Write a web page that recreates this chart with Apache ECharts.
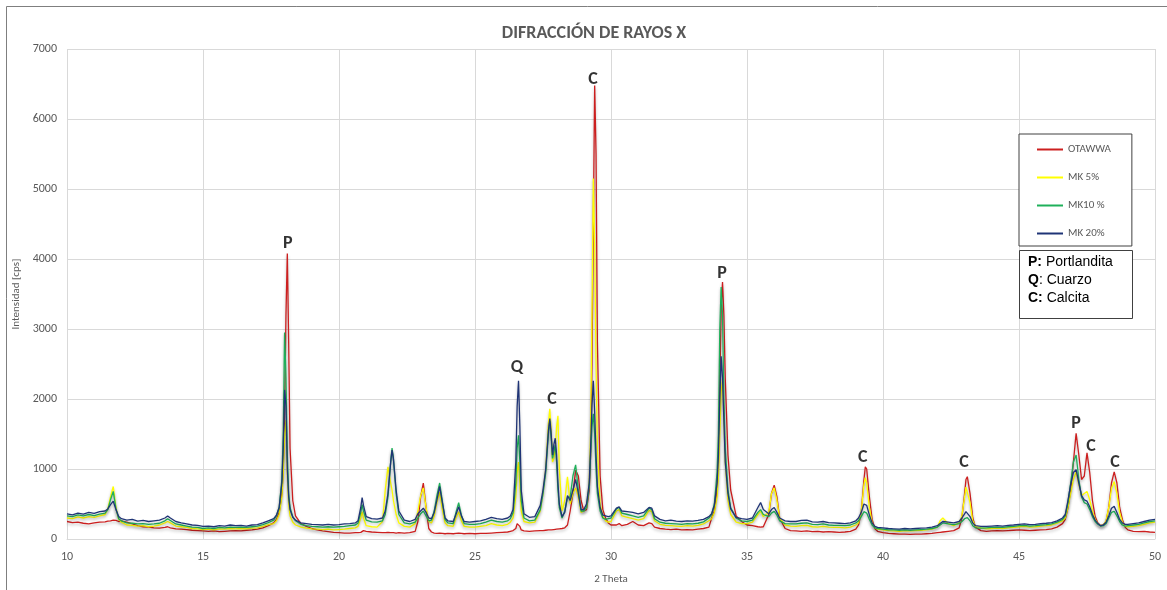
<!DOCTYPE html>
<html>
<head>
<meta charset="utf-8">
<title>Difracción de rayos X</title>
<script src="https://cdn.jsdelivr.net/npm/echarts@6/dist/echarts.min.js"></script>
<style>
  html, body { margin: 0; padding: 0; background: #fff; }
  #xrdChart { width: 1167px; height: 590px; }
</style>
</head>
<body>
<div id="xrdChart"></div>
<script>
// 2 theta positions (shared by the four patterns)
const theta = [
  10.0, 10.2, 10.4, 10.6, 10.8, 11.0, 11.2, 11.4,
  11.5, 11.6, 11.7, 11.8, 11.9, 12.0,
  12.2, 12.4, 12.6, 12.8, 13.0, 13.2, 13.4,
  13.6, 13.7, 13.8, 14.0,
  14.2, 14.4, 14.6, 14.8, 15.0, 15.2, 15.4, 15.6, 15.8, 16.0, 16.2, 16.4, 16.6, 16.8, 17.0, 17.2, 17.4,
  17.6, 17.7, 17.8, 17.9, 17.95, 18.0, 18.05, 18.1, 18.15, 18.2, 18.3, 18.4, 18.6,
  18.8, 19.0, 19.2, 19.4, 19.6, 19.8, 20.0, 20.2, 20.4, 20.6,
  20.7, 20.8, 20.85, 20.9, 21.0, 21.2, 21.4, 21.6, 21.7, 21.8, 21.9, 21.95, 22.0, 22.1, 22.2, 22.4, 22.6, 22.8,
  22.9, 23.0, 23.1, 23.2, 23.3, 23.4, 23.5, 23.6, 23.7, 23.8, 23.9, 24.0, 24.2, 24.3, 24.4, 24.5, 24.6, 24.8,
  25.0, 25.2, 25.4, 25.6, 25.8, 26.0, 26.2, 26.3,
  26.4, 26.5, 26.55, 26.6, 26.65, 26.7, 26.8, 27.0, 27.2, 27.4, 27.5, 27.6, 27.7, 27.75, 27.8,
  27.85, 27.9, 27.95, 28.0, 28.05, 28.1, 28.2, 28.3, 28.4, 28.5, 28.6, 28.7, 28.8, 28.9, 29.0,
  29.1, 29.2, 29.25, 29.3, 29.35, 29.4, 29.45, 29.5, 29.6, 29.7, 29.8,
  29.9, 30.0, 30.2, 30.3, 30.4, 30.6, 30.8, 31.0, 31.2, 31.4, 31.5, 31.6, 31.8, 32.0, 32.2, 32.4, 32.6, 32.8, 33.0, 33.2, 33.4, 33.6,
  33.7, 33.8, 33.9, 33.95, 34.0, 34.05, 34.1, 34.15, 34.2, 34.3, 34.4, 34.6, 34.8,
  35.0, 35.2, 35.4, 35.5, 35.6, 35.8, 35.9, 36.0, 36.1, 36.2, 36.4, 36.6,
  36.8, 37.0, 37.2, 37.4, 37.6, 37.8, 38.0, 38.2, 38.4, 38.6, 38.8, 39.0,
  39.1, 39.2, 39.3, 39.35, 39.4, 39.5, 39.6, 39.7, 39.8,
  40.0, 40.2, 40.4, 40.6, 40.8, 41.0, 41.2, 41.4, 41.6, 41.8, 42.0, 42.1, 42.2, 42.4, 42.6, 42.8,
  42.9, 43.0, 43.05, 43.1, 43.2, 43.3, 43.4, 43.6,
  43.8, 44.0, 44.2, 44.4, 44.6, 44.8, 45.0, 45.2, 45.4, 45.6, 45.8, 46.0, 46.2, 46.4, 46.6,
  46.7, 46.8, 46.9, 47.0, 47.1, 47.2, 47.3, 47.4, 47.5, 47.6, 47.7, 47.8, 47.9, 48.0, 48.1, 48.2, 48.3, 48.4, 48.5, 48.6, 48.7, 48.8, 48.9,
  49.0, 49.2, 49.4, 49.6, 49.8, 50.0
];

// intensities [cps]
const otawwa = [
  250, 235, 240, 225, 215, 230, 240, 245,
  255, 260, 270, 265, 250, 260,
  240, 215, 190, 175, 170, 160, 155,
  165, 175, 160, 145,
  140, 135, 125, 120, 115, 110, 115, 105, 110, 115, 120, 115, 125, 130, 140, 160, 190,
  230, 280, 380, 650, 1000, 1800, 3200, 4080, 2800, 1300, 550, 330, 220,
  180, 150, 130, 115, 105, 95, 90, 85, 85, 90,
  90, 95, 110, 120, 110, 100, 95, 90, 90, 95, 90, 95, 90, 85, 90, 85, 90, 110,
  250, 600, 800, 450, 150, 100, 85, 80, 85, 80, 75, 80, 75, 80, 85, 80, 75, 80,
  75, 80, 80, 85, 90, 95, 100, 110,
  120, 150, 220, 240, 180, 130, 115, 110, 115, 120, 120, 125, 130, 125, 130,
  130, 135, 135, 140, 140, 145, 150, 160, 200, 400, 650, 980, 900, 550, 400,
  420, 700, 1200, 2500, 4500, 6480, 5500, 2800, 900, 420, 300,
  230, 200, 200, 220, 190, 210, 250, 200, 190, 230, 220, 170, 150, 140, 135, 140, 130, 135, 130, 140, 150, 170,
  300, 400, 700, 1100, 2200, 3300, 3670, 3200, 2300, 1200, 700, 330, 250,
  200, 190, 175, 170, 175, 350, 650, 770, 600, 300, 150, 120,
  115, 110, 115, 105, 110, 100, 105, 100, 95, 100, 110, 140,
  200, 380, 850, 1030, 1000, 600, 280, 150, 110,
  90, 80, 75, 70, 70, 65, 70, 70, 75, 80, 90, 95, 100, 110, 120, 160,
  300, 650, 850, 890, 650, 300, 170, 120,
  110, 115, 120, 115, 120, 125, 130, 125, 120, 125, 130, 135, 145, 170, 220,
  280, 450, 700, 1100, 1510, 1200, 850, 900, 1230, 950, 550, 320, 230, 190, 200, 250, 450, 800, 960, 800, 450, 280, 170,
  130, 110, 105, 110, 100, 95
];

const mk5 = [
  300, 290, 315, 300, 320, 310, 330, 350,
  430, 600, 750, 450, 280, 240,
  200, 195, 185, 190, 175, 185, 200,
  230, 250, 230, 185,
  175, 165, 150, 145, 135, 140, 130, 145, 140, 150, 145, 150, 145, 155, 160, 180, 205,
  220, 260, 350, 600, 950, 1500, 1700, 900, 500, 330, 240, 200, 170,
  155, 145, 140, 135, 140, 130, 135, 140, 150, 160,
  180, 300, 390, 300, 190, 175, 170, 250, 700, 1030, 800, 700, 550, 350, 230, 180, 170, 220,
  400, 620, 730, 450, 250, 230, 330, 520, 670, 420, 230, 190, 180, 300, 390, 260, 180, 170,
  170, 180, 190, 220, 200, 190, 210, 240,
  300, 600, 950, 1100, 800, 400, 250, 230, 240, 400, 650, 1000, 1650, 1860, 1550,
  1100, 1150, 1300, 1600, 1760, 1000, 400, 550, 890, 500, 650, 730, 600, 380, 400,
  450, 800, 1500, 3200, 5150, 4200, 2500, 1300, 500, 330, 260,
  240, 250, 400, 420, 330, 310, 290, 270, 290, 410, 390, 260, 210, 195, 190, 185, 180, 190, 185, 195, 215, 260,
  290, 380, 600, 900, 1500, 2100, 2290, 1800, 1100, 550, 350, 240, 220,
  220, 240, 350, 400, 320, 380, 650, 730, 550, 300, 200, 185,
  180, 190, 195, 175, 170, 180, 170, 165, 165, 160, 170, 200,
  230, 380, 780, 875, 800, 450, 230, 160, 140,
  130, 120, 115, 110, 120, 115, 120, 125, 130, 140, 170, 260, 300, 220, 190, 230,
  330, 600, 740, 740, 520, 260, 180, 160,
  145, 150, 155, 150, 160, 165, 175, 180, 170, 175, 185, 190, 200, 225, 260,
  300, 450, 650, 850, 960, 780, 620, 650, 680, 560, 400, 280, 220, 190, 200, 260, 450, 720, 820, 650, 380, 240, 180,
  175, 180, 190, 210, 230, 240
];

const mk10 = [
  330, 320, 345, 330, 350, 335, 355, 370,
  420, 560, 680, 430, 290, 260,
  230, 225, 215, 220, 210, 215, 225,
  260, 290, 265, 215,
  200, 185, 170, 165, 150, 160, 150, 165, 160, 170, 165, 170, 165, 175, 185, 205, 235,
  270, 330, 450, 850, 1500, 2950, 2300, 1200, 650, 450, 320, 260, 210,
  190, 180, 175, 170, 175, 170, 175, 180, 190, 200,
  230, 380, 490, 400, 270, 245, 240, 260, 350, 600, 1100, 1300, 1150, 650, 350, 230, 215, 240,
  300, 360, 400, 330, 260, 270, 400, 620, 800, 540, 280, 230, 220, 380, 520, 340, 220, 210,
  210, 220, 240, 270, 250, 240, 260, 290,
  380, 800, 1300, 1480, 1100, 550, 300, 260, 270, 420, 650, 950, 1500, 1690, 1450,
  1150, 1250, 1340, 1100, 700, 450, 300, 400, 590, 600, 900, 1060, 700, 400, 400,
  450, 750, 1200, 1600, 1790, 1500, 1000, 650, 400, 300, 280,
  290, 300, 430, 450, 370, 350, 330, 310, 330, 440, 420, 290, 240, 225, 220, 215, 210, 220, 215, 225, 245, 300,
  350, 500, 950, 1500, 3000, 3600, 3200, 2000, 1300, 700, 450, 300, 260,
  250, 270, 380, 420, 350, 320, 370, 395, 340, 260, 220, 215,
  215, 225, 230, 210, 205, 215, 200, 195, 195, 190, 200, 230,
  260, 320, 390, 395, 370, 280, 200, 160, 150,
  140, 130, 130, 125, 130, 125, 130, 135, 140, 150, 170, 200, 230, 215, 205, 220,
  250, 290, 310, 305, 260, 190, 160, 155,
  160, 165, 170, 165, 175, 180, 190, 195, 185, 190, 200, 205, 215, 240, 280,
  330, 520, 800, 1100, 1200, 850, 600, 520, 500, 420, 320, 250, 210, 185, 190, 220, 300, 380, 395, 330, 250, 200, 185,
  190, 200, 210, 230, 250, 260
];

const mk20 = [
  360, 345, 370, 355, 380, 365, 390, 400,
  430, 490, 540, 420, 320, 290,
  270, 280, 255, 265, 250, 260, 270,
  300, 330, 300, 250,
  230, 215, 200, 195, 180, 185, 175, 190, 185, 200, 190, 195, 185, 200, 205, 230, 260,
  290, 340, 450, 800, 1300, 2130, 1900, 1000, 600, 420, 310, 270, 230,
  220, 210, 205, 200, 210, 200, 205, 215, 220, 230,
  260, 450, 590, 480, 320, 290, 285, 300, 400, 650, 1100, 1270, 1150, 700, 400, 270, 250, 280,
  360, 400, 440, 380, 300, 290, 380, 560, 750, 520, 300, 260, 250, 350, 460, 330, 250, 240,
  250, 260, 280, 310, 290, 280, 300, 330,
  420, 1100, 1900, 2260, 1600, 700, 360, 310, 320, 480, 700, 1000, 1550, 1720, 1500,
  1200, 1350, 1440, 1200, 800, 500, 320, 380, 620, 550, 700, 850, 650, 420, 420,
  500, 800, 1300, 1900, 2260, 1800, 1200, 750, 450, 340, 330,
  320, 330, 440, 460, 400, 390, 380, 360, 380, 450, 440, 330, 280, 260, 270, 255, 250, 260, 255, 265, 280, 320,
  360, 480, 800, 1200, 2000, 2610, 2300, 1700, 1100, 650, 430, 310, 290,
  280, 300, 450, 520, 420, 360, 420, 450, 380, 300, 260, 250,
  250, 265, 270, 245, 240, 250, 235, 230, 225, 220, 230, 260,
  300, 380, 500, 520, 480, 340, 230, 180, 165,
  160, 150, 145, 140, 150, 145, 150, 155, 160, 170, 190, 220, 250, 240, 230, 250,
  300, 360, 390, 395, 320, 230, 190, 180,
  180, 185, 190, 185, 195, 200, 210, 215, 205, 210, 220, 225, 235, 260, 300,
  350, 550, 780, 950, 990, 800, 620, 560, 540, 460, 350, 270, 220, 190, 200, 240, 330, 440, 466, 380, 280, 230, 210,
  210, 220, 230, 250, 270, 280
];

const seriesNames = ['OTAWWA', 'MK 5%', 'MK10 %', 'MK 20%'];
const seriesColors = ['#cc1f1f', '#ffff00', '#1fb05a', '#1f3476'];

// peak annotations: position, height of the letter, phase
const peakTheta = [18.12, 26.54, 27.83, 29.34, 34.08, 39.26, 42.98, 47.10, 47.65, 48.53];
const peakLabelY = [4290, 2526, 2060, 6633, 3867, 1242, 1171, 1722, 1397, 1171];
const peakPhase = ['P', 'Q', 'C', 'C', 'P', 'C', 'C', 'P', 'C', 'C'];

const xTicks = { min: 10, max: 50, interval: 5 };
const yTicks = { min: 0, max: 7000, interval: 1000 };

[otawwa, mk5, mk10, mk20].forEach(function (arr, i) {
  if (arr.length !== theta.length) {
    throw new Error(seriesNames[i] + ' has ' + arr.length + ' values, theta has ' + theta.length);
  }
});

const baseFont = 'Carlito, Calibri, "Open Sans", "Liberation Sans", sans-serif';

let chart = echarts.init(document.getElementById('xrdChart'));

let lineSeries = [otawwa, mk5, mk10, mk20].map(function (vals, i) {
  return {
    name: seriesNames[i],
    type: 'line',
    data: theta.map(function (t, k) { return [t, vals[k]]; }),
    showSymbol: false,
    symbol: 'none',
    color: seriesColors[i],
    lineStyle: {
      width: 1.3,
      color: seriesColors[i],
      shadowColor: 'rgba(0,0,0,0.25)',
      shadowBlur: 3,
      shadowOffsetY: 2
    },
    z: 2 + i
  };
});

chart.setOption({
  animation: false,
  backgroundColor: '#ffffff',
  title: {
    text: 'DIFRACCIÓN DE RAYOS X',
    left: 589,
    top: 19,
    textAlign: 'center',
    textStyle: { fontFamily: baseFont, fontSize: 18, fontWeight: 'bold', color: '#595959' }
  },
  grid: { left: 67, right: 12, top: 49, bottom: 45, containLabel: false },
  legend: {
    data: seriesNames,
    orient: 'vertical',
    left: 1019,
    top: 134,
    padding: [10, 21, 7, 18],
    itemGap: 17,
    itemWidth: 26,
    itemHeight: 2,
    icon: 'rect',
    backgroundColor: '#ffffff',
    borderColor: '#404040',
    borderWidth: 1,
    z: 20,
    textStyle: { fontFamily: baseFont, fontSize: 11, color: '#595959' }
  },
  xAxis: {
    type: 'value',
    min: xTicks.min,
    max: xTicks.max,
    interval: xTicks.interval,
    name: '2 Theta',
    nameLocation: 'middle',
    nameGap: 35,
    nameTextStyle: { fontFamily: baseFont, fontSize: 11, color: '#595959' },
    axisLine: { show: true, lineStyle: { color: '#d9d9d9' } },
    axisTick: { show: false },
    axisLabel: { margin: 12, fontFamily: baseFont, fontSize: 12, color: '#595959' },
    splitLine: { show: true, lineStyle: { color: '#d9d9d9' } }
  },
  yAxis: {
    type: 'value',
    min: yTicks.min,
    max: yTicks.max,
    interval: yTicks.interval,
    name: 'Intensidad [cps]',
    nameLocation: 'middle',
    nameGap: 45,
    nameTextStyle: { fontFamily: baseFont, fontSize: 11, color: '#595959' },
    axisLine: { show: false },
    axisTick: { show: false },
    axisLabel: {
      margin: 10,
      fontFamily: baseFont,
      fontSize: 12,
      color: '#595959',
      formatter: function (v) { return String(v); }
    },
    splitLine: { show: true, lineStyle: { color: '#d9d9d9' } }
  },
  series: lineSeries.concat([{
    name: 'fases',
    type: 'scatter',
    silent: true,
    symbolSize: 1,
    itemStyle: { color: 'rgba(0,0,0,0)' },
    data: peakTheta.map(function (t, k) { return [t, peakLabelY[k], peakPhase[k]]; }),
    label: {
      show: true,
      position: 'inside',
      offset: [0, 5],
      formatter: function (p) { return p.value[2]; },
      fontFamily: baseFont,
      fontSize: 18,
      fontWeight: 'bold',
      color: '#000000'
    },
    z: 10
  }]),
  graphic: [
    {
      // outer chart border
      type: 'rect',
      shape: { x: 6.5, y: 6.5, width: 1200, height: 700 },
      style: { fill: 'none', stroke: '#7f7f7f', lineWidth: 1 },
      silent: true,
      z: 50
    },
    {
      // phase key box
      type: 'group',
      left: 1019,
      top: 250,
      z: 50,
      children: [
        {
          type: 'rect',
          shape: { x: 0.5, y: 0.5, width: 113, height: 68 },
          style: { fill: '#ffffff', stroke: '#404040', lineWidth: 1 },
          z: 50
        },
        {
          type: 'text',
          x: 9,
          y: 3,
          z: 51,
          style: {
            text: '{b|P:} Portlandita\n{b|Q}: Cuarzo\n{b|C:} Calcita',
            fontFamily: '"Liberation Sans", Arial, sans-serif',
            fontSize: 14,
            lineHeight: 18,
            fill: '#000000',
            rich: {
              b: { fontFamily: '"Liberation Sans", Arial, sans-serif', fontSize: 14, fontWeight: 'bold', lineHeight: 18 }
            }
          }
        }
      ]
    }
  ]
});
</script>
</body>
</html>
